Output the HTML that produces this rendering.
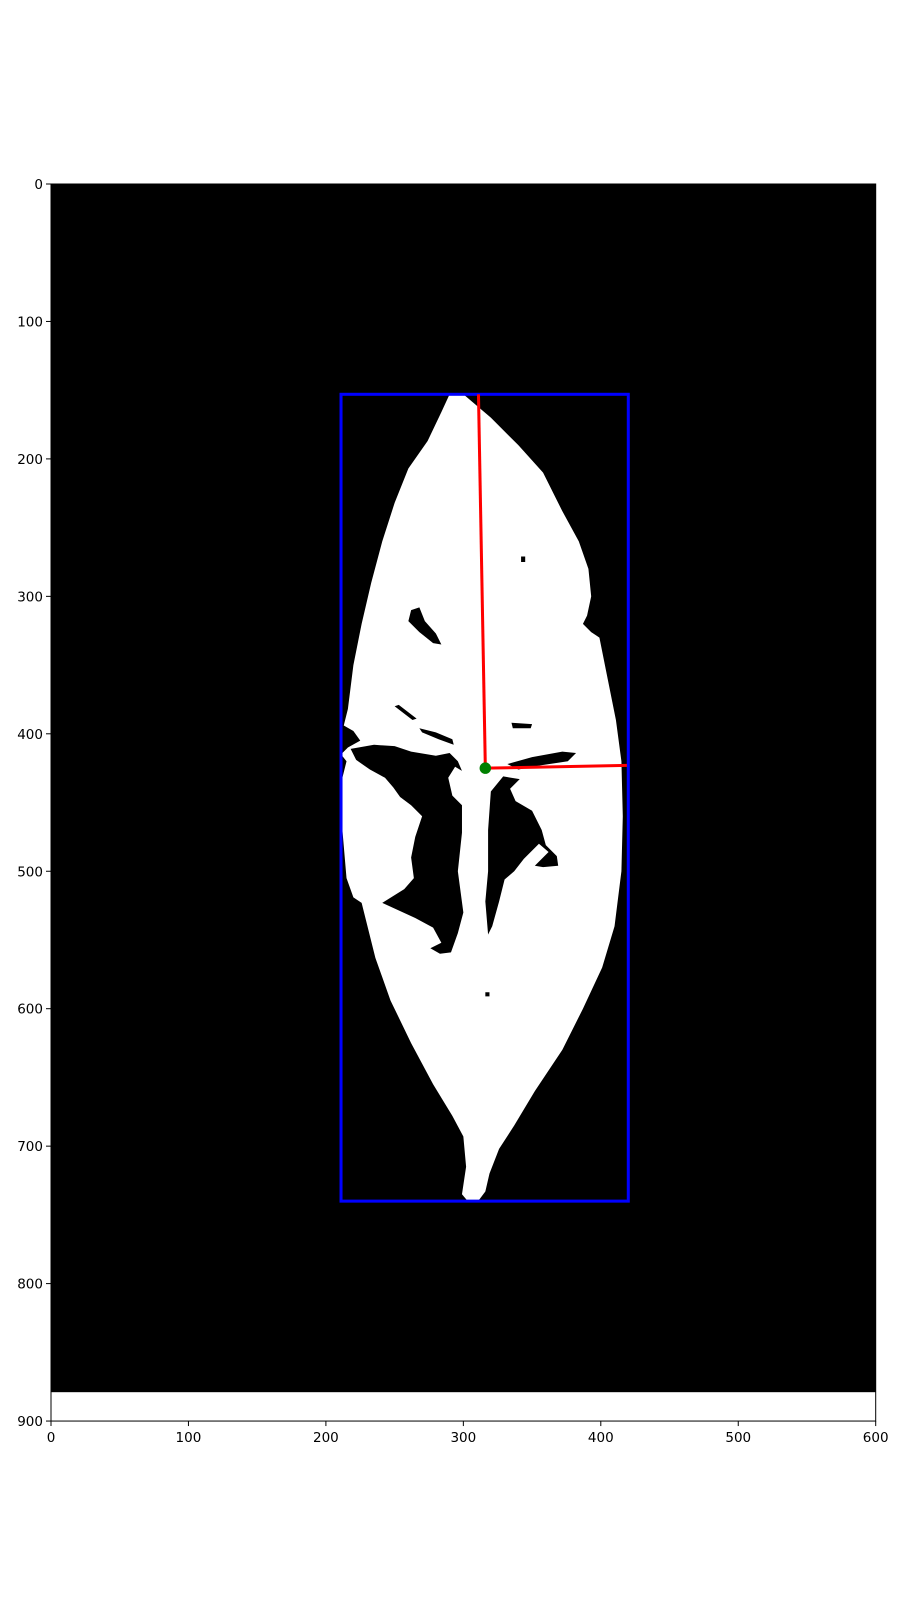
<!DOCTYPE html>
<html><head><meta charset="utf-8"><style>
html,body{margin:0;padding:0;background:#fff;}
svg text{font-family:"DejaVu Sans","Liberation Sans",sans-serif;font-size:13.5px;fill:#000;}
</style></head><body>
<svg id="chart" width="900" height="1600" viewBox="0 0 900 1600" xmlns="http://www.w3.org/2000/svg">
<rect width="900" height="1600" fill="#fff"/>
<g id="plot" transform="translate(51,184) scale(1.3745)">
  <rect x="0" y="0" width="600" height="879" fill="#000"/>
  <path fill="#fff" fill-rule="evenodd" d="
  M290,153 L300,153 L320,170 L340,190 L358,210 L372,238 L384,260 L391,280 L393,300 L390,314 L387,320 L393,326 L399,330 L405,360 L411,390 L415,420 L416,460 L415,500 L410,540 L401,570 L387,600 L372,630 L352,660 L337,685 L326,702 L319,720 L316,733 L310,741 L304,741 L299,735 L302,715 L300,693 L292,678 L278,655 L262,625 L247,594 L236,563 L229,535 L226,523 L220,519 L215,505 L212,470 L212,432 L215,420 L211,415 L216,410 L225,405 L220,398 L213,394 L216,382 L220,350 L226,320 L233,290 L241,260 L250,232 L260,207 L274,187 L284,166 Z
  M262,310 L268,308 L272,318 L280,327 L284,335 L278,334 L268,326 L260,318 Z
  M218,411 L235,408 L250,409 L262,413 L280,416 L290,414 L296,420 L299,427 L294,424 L289,432 L292,445 L299,452 L299,472 L296,500 L300,530 L296,545 L291,559 L283,560 L276,556 L284,552 L278,541 L265,534 L241,523 L257,513 L264,505 L262,490 L265,475 L270,460 L262,452 L254,446 L249,439 L243,432 L232,426 L222,419 Z
  M320,442 L329,431 L341,433 L334,440 L338,449 L350,456 L357,470 L360,481 L368,489 L369,496 L358,497 L352,496 L362,486 L355,480 L344,491 L337,500 L330,506 L326,522 L321,540 L318,546 L316,522 L318,500 L318,470 Z
  M332,422 L350,417 L372,413 L382,414 L376,420 L356,423 L340,426 Z
  M335,392 L350,393 L349,396 L336,396 Z
  M250,380 L253,379 L266,389 L263,390 Z
  M268,396 L280,399 L292,404 L293,408 L282,404 L270,399 Z
  M342,271 L345,271 L345,275 L342,275 Z
  M316,588 L319,588 L319,591 L316,591 Z"/>
  <g id="overlay"></g>
</g>
<g id="axes"></g>
</svg>
<script>
const bbox = [211, 153, 420, 740]; // xmin, ymin, xmax, ymax
const centroid = [316, 425];
const lengthLineEnd = [311, 153];
const widthLineEnd = [419, 423];
const xTicks = [0, 100, 200, 300, 400, 500, 600];
const yTicks = [0, 100, 200, 300, 400, 500, 600, 700, 800, 900];

const NS = "http://www.w3.org/2000/svg";
const S = 1.3745, X0 = 51, Y0 = 184;
const sx = v => X0 + v * S, sy = v => Y0 + v * S;
const ov = document.getElementById('overlay');
function mk(tag, attrs, parent){const e=document.createElementNS(NS,tag);for(const k in attrs)e.setAttribute(k,attrs[k]);parent.appendChild(e);return e;}

const box = mk('rect',{x:bbox[0],y:bbox[1],width:bbox[2]-bbox[0],height:bbox[3]-bbox[1],fill:'none',stroke:'#0000ff','stroke-width':2.2},ov);


const l1 = mk('line',{x1:lengthLineEnd[0],y1:lengthLineEnd[1],x2:centroid[0],y2:centroid[1],stroke:'#ff0000','stroke-width':2.2},ov);


const l2 = mk('line',{x1:centroid[0],y1:centroid[1],x2:widthLineEnd[0],y2:widthLineEnd[1],stroke:'#ff0000','stroke-width':2.2},ov);


const c = mk('circle',{cx:centroid[0],cy:centroid[1],r:4.2,fill:'#008000'},ov);



const ax = document.getElementById('axes');
const frame = mk('rect',{x:X0,y:Y0,width:600*S,height:900*S,fill:'none',stroke:'#000','stroke-width':1},ax);


xTicks.forEach(t=>{
  const ln = mk('line',{x1:sx(t),x2:sx(t),y1:sy(900),y2:sy(900)+5,stroke:'#000','stroke-width':1},ax);
  
  
  const tx = mk('text',{x:sx(t),y:sy(900)+21,'text-anchor':'middle'},ax);
  tx.textContent = t;
  
  
});
yTicks.forEach(t=>{
  const ln = mk('line',{x1:X0-5,x2:X0,y1:sy(t),y2:sy(t),stroke:'#000','stroke-width':1},ax);
  
  
  const tx = mk('text',{x:X0-8,y:sy(t)+5,'text-anchor':'end'},ax);
  tx.textContent = t;
  
  
});
</script>
</body></html>
